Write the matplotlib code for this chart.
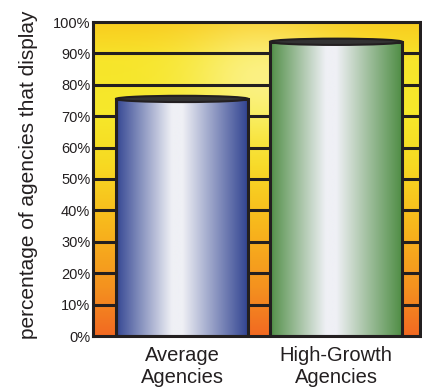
import numpy as np
import matplotlib
matplotlib.use("Agg")
import matplotlib.pyplot as plt
from matplotlib.colors import LinearSegmentedColormap, to_rgb
from matplotlib.patches import Rectangle, Ellipse

plt.rcParams['font.family'] = ['Liberation Sans', 'DejaVu Sans']

categories = ["Average\nAgencies", "High-Growth\nAgencies"]
values = [75.5, 93.7]
bar_edge_colors = ["#2b3e8e", "#4a8a3f"]
bar_light = "#eff0f5"
yticks = list(range(0, 101, 10))
ytick_labels = [f"{t}%" for t in yticks]
ylabel = "percentage of agencies that display"

text_color = "#231f20"
line_color = "#231f20"

fig = plt.figure(figsize=(4.22, 3.89), dpi=100)
ax = fig.add_axes([93 / 422, 53 / 389, 327 / 422, 314 / 389])

xlim = (-0.578, 1.545)
ax.set_xlim(*xlim)
ax.set_ylim(0, 100)

# background: orange at the bottom, bright yellow in the middle, glow up top
ny, nx = 300, 300
yy, xx = np.mgrid[0:1:ny * 1j, 0:1:nx * 1j]
bg_cmap = LinearSegmentedColormap.from_list(
    "sun",
    [(0.0, "#f26a22"), (0.15, "#f4911f"), (0.35, "#f8b71c"),
     (0.55, "#f7da22"), (0.72, "#f6e82a"), (0.88, "#f7e52a"), (1.0, "#f9cd1f")])
bg = bg_cmap(yy)[..., :3]
glow = np.exp(-(((xx - 0.52) / 0.22) ** 2 + ((yy - 0.82) / 0.18) ** 2))
bg = bg + (np.array([1.0, 0.98, 0.8]) - bg) * 0.55 * glow[..., None]
ax.imshow(bg, extent=[xlim[0], xlim[1], 0, 100], origin="lower",
          aspect="auto", zorder=0, interpolation="bilinear")

# horizontal rules every 10%
for t in yticks[1:-1]:
    ax.axhline(t, color=line_color, lw=2.2, zorder=1)

# cylinder bars with a horizontal metallic shading
bar_w = 0.857
tpos = np.linspace(0, 1, 200)
shade = np.interp(tpos, [0, 0.03, 0.2, 0.42, 0.5, 0.75, 0.97, 1.0],
                  [0, 0.12, 0.5, 1.0, 1.0, 0.5, 0.08, 0])
for i, (v, ec) in enumerate(zip(values, bar_edge_colors)):
    dark = np.array(to_rgb(ec))
    light = np.array(to_rgb(bar_light))
    row = dark + (light - dark) * shade[:, None]
    img = np.tile(row[None, :, :], (2, 1, 1))
    x0 = i - bar_w / 2
    rect = Rectangle((x0, 0), bar_w, v, facecolor="none",
                     edgecolor=line_color, lw=2.2, zorder=3)
    ax.add_patch(rect)
    im = ax.imshow(img, extent=[x0, x0 + bar_w, 0, v], origin="lower",
                   aspect="auto", zorder=2, interpolation="bilinear")
    im.set_clip_path(rect)
    ax.add_patch(Ellipse((i, v), bar_w, 2.0, facecolor="#333333",
                         edgecolor=line_color, lw=1.5, zorder=4))

ax.set_yticks(yticks)
ax.set_yticklabels(ytick_labels, fontsize=10.5, color=text_color)
ax.set_xticks(range(len(categories)))
ax.set_xticklabels(categories, fontsize=14.5, color=text_color, linespacing=1.2)
ax.tick_params(axis="both", length=0)
ax.tick_params(axis="y", pad=2)
ax.tick_params(axis="x", pad=7)

for s in ax.spines.values():
    s.set_color(line_color)
    s.set_linewidth(2.2)
    s.set_zorder(5)

fig.text(29 / 422, 1 - 175 / 389, ylabel, rotation=90, ha="center",
         va="center", fontsize=15, color=text_color)

fig.savefig("out.png", dpi=100)
